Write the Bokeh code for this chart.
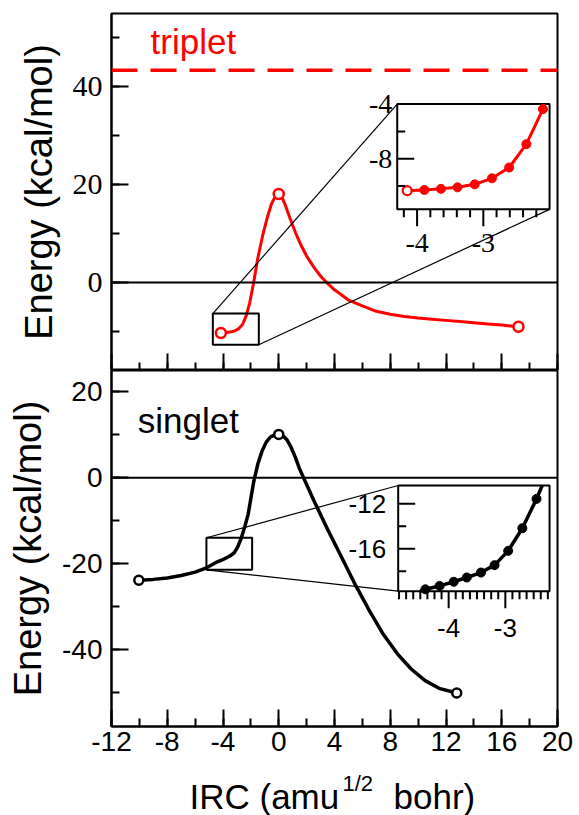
import numpy as np
from bokeh.plotting import figure
from bokeh.layouts import column
from bokeh.models import (Range1d, SingleIntervalTicker, Span, PrintfTickFormatter,
                          CustomJSTickFormatter)
from bokeh.core.properties import value
from bokeh.embed import file_html
from bokeh.resources import INLINE

SANS = "Liberation Sans"
SERIF = "Liberation Serif"
RED = "#ff0000"
BLACK = "#000000"
WIDTH = 579
FRAME_LEFT, FRAME_RIGHT = 111, 557

# ---------------------------------------------------------------- data
# Triplet IRC profile (kcal/mol) along the reaction coordinate
triplet_x = [-4.15, -3.89, -3.64, -3.39, -3.13, -2.87, -2.61, -2.35, -2.10,
             -1.80, -1.50, -1.13, -0.80, -0.53, -0.25, 0.00, 0.25, 0.50,
             0.80, 1.20, 1.60, 2.00, 2.50, 3.00, 3.50, 4.00, 5.00, 6.00,
             7.00, 8.00, 9.00, 10.0, 11.0, 12.0, 13.0, 14.0, 15.0, 16.0, 17.2]
triplet_e = [-10.33, -10.28, -10.20, -10.09, -9.87, -9.43, -8.64, -6.93, -4.37,
             0.0, 5.0, 9.9, 13.5, 16.0, 17.6, 18.1, 17.3, 15.6,
             13.2, 10.2, 7.6, 5.4, 3.2, 1.3, -0.2, -1.5, -3.6, -4.8,
             -5.9, -6.5, -6.95, -7.25, -7.5, -7.75, -8.0, -8.25, -8.5, -8.7, -9.06]
triplet_asymptote = 43.4

# Singlet IRC profile (kcal/mol)
singlet_x = [-10.04, -9.0, -8.0, -7.0, -6.0, -5.24, -4.41, -4.16, -3.91, -3.68,
             -3.43, -3.19, -2.95, -2.70, -2.45, -2.20, -1.80, -1.50, -1.20,
             -0.90, -0.60, -0.30, 0.00, 0.30, 0.60, 0.90, 1.20, 1.50, 2.50,
             3.50, 4.50, 5.50, 6.50, 7.50, 8.50, 9.50, 10.50, 11.50, 12.77]
singlet_e = [-23.9, -23.7, -23.4, -22.8, -22.0, -21.1, -19.6, -19.3, -18.93, -18.55,
             -18.11, -17.45, -16.18, -14.17, -11.56, -8.6, -1.0, 3.2, 6.2,
             8.3, 9.5, 10.0, 10.1, 9.8, 8.8, 7.0, 4.7, 2.0, -5.2,
             -12.0, -18.5, -25.0, -31.0, -36.5, -41.0, -44.6, -47.3, -49.1, -50.2]

x_limits = (-12, 20)
top_limits = (-18, 55)
bottom_limits = (-58, 25)

# magnified windows: region shown, marker box on the main axes, inset placement
top_window = {"x": (-4.30, -2.00), "y": (-11.7, -4.0)}
top_box = {"x": (-4.73, -1.43), "y": (-12.73, -6.37)}
top_place = {"x": (8.50, 19.43), "y": (14.95, 36.48)}
top_xticks = [-4, -3]
top_xminor = [-4.2, -3.8, -3.6, -3.4, -3.2, -2.8, -2.6, -2.4, -2.2]
top_yticks = [-8, -4]
top_yminor = [-10, -6]

bottom_window = {"x": (-4.89, -2.22), "y": (-19.77, -10.37)}
bottom_box = {"x": (-5.19, -1.91), "y": (-21.47, -14.0)}
bottom_place = {"x": (8.57, 19.43), "y": (-26.46, -1.81)}
bottom_xticks = [-4, -3]
bottom_xminor = [-4.875, -4.75, -4.625, -4.5, -4.375, -4.25, -4.125,
                 -3.875, -3.75, -3.625, -3.5, -3.375, -3.25, -3.125,
                 -2.875, -2.75, -2.625, -2.5, -2.375, -2.25]
bottom_yticks = [-16, -12]
bottom_yminor = [-18, -14]


def clip_polyline(xs, ys, xlo, xhi, ylo, yhi):
    """Clip a polyline to a rectangle (Liang-Barsky on each segment)."""
    ox, oy = [], []
    for i in range(len(xs) - 1):
        x0, y0, x1, y1 = xs[i], ys[i], xs[i + 1], ys[i + 1]
        dx, dy = x1 - x0, y1 - y0
        t0, t1, ok = 0.0, 1.0, True
        for pp, qq in ((-dx, x0 - xlo), (dx, xhi - x0), (-dy, y0 - ylo), (dy, yhi - y0)):
            if pp == 0:
                if qq < 0:
                    ok = False
                    break
            else:
                r = qq / pp
                if pp < 0:
                    t0 = max(t0, r)
                else:
                    t1 = min(t1, r)
        if not ok or t0 > t1:
            continue
        ax, ay = x0 + t0 * dx, y0 + t0 * dy
        bx, by = x0 + t1 * dx, y0 + t1 * dy
        if not ox or abs(ox[-1] - ax) > 1e-9 or abs(oy[-1] - ay) > 1e-9:
            ox.append(ax)
            oy.append(ay)
        ox.append(bx)
        oy.append(by)
    return ox, oy


def make_panel(y_limits, height, border_top, border_bottom):
    p = figure(width=WIDTH, height=height, x_range=Range1d(*x_limits),
               y_range=Range1d(*y_limits), output_backend="svg",
               toolbar_location=None, min_border_left=FRAME_LEFT,
               min_border_right=WIDTH - FRAME_RIGHT,
               min_border_top=border_top, min_border_bottom=border_bottom,
               background_fill_color="white", border_fill_color="white")
    p.grid.visible = False
    p.outline_line_color = BLACK
    p.outline_line_width = 2
    p.outline_line_alpha = 1.0
    p.xaxis.ticker = SingleIntervalTicker(interval=4, num_minor_ticks=2)
    p.yaxis.ticker = SingleIntervalTicker(interval=20, num_minor_ticks=2)
    p.axis.formatter = PrintfTickFormatter(format="%d")
    p.axis.axis_line_width = 2
    p.axis.axis_line_color = BLACK
    p.axis.major_tick_in = 17
    p.axis.major_tick_out = 0
    p.axis.minor_tick_in = 8
    p.axis.minor_tick_out = 0
    p.axis.major_tick_line_width = 2
    p.axis.minor_tick_line_width = 2
    p.axis.major_tick_line_color = BLACK
    p.axis.minor_tick_line_color = BLACK
    p.axis.major_label_text_color = BLACK
    p.yaxis.major_label_standoff = 9
    p.yaxis.axis_label = "Energy (kcal/mol)"
    p.yaxis.axis_label_text_font = SANS
    p.yaxis.axis_label_text_font_size = "38px"
    p.yaxis.axis_label_text_font_style = "normal"
    p.yaxis.axis_label_text_color = BLACK
    p.yaxis.axis_label_standoff = 10
    p.add_layout(Span(location=0, dimension="width", line_color=BLACK, line_width=2))
    return p


def draw_inset(p, xs, es, window, place, box, links, color, font, font_size,
               xt, xm, yt, ym, xlab_off, ylab_off, first_open, lw):
    (wx0, wx1), (wy0, wy1) = window["x"], window["y"]
    (px0, px1), (py0, py1) = place["x"], place["y"]
    (bx0, bx1), (by0, by1) = box["x"], box["y"]
    # box marking the magnified region on the main axes
    p.quad(left=[bx0], right=[bx1], bottom=[by0], top=[by1], fill_color=None,
           line_color=BLACK, line_width=2)
    box_c = {"tl": (bx0, by1), "tr": (bx1, by1), "bl": (bx0, by0), "br": (bx1, by0)}
    ins_c = {"tl": (px0, py1), "tr": (px1, py1), "bl": (px0, py0), "br": (px1, py0)}
    p.segment(x0=[box_c[k][0] for k in links], y0=[box_c[k][1] for k in links],
              x1=[ins_c[k][0] for k in links], y1=[ins_c[k][1] for k in links],
              line_color=BLACK, line_width=1.2)
    sub = p.subplot(x_source=Range1d(wx0, wx1), y_source=Range1d(wy0, wy1),
                    x_target=Range1d(px0, px1), y_target=Range1d(py0, py1))
    sub.quad(left=[wx0], right=[wx1], bottom=[wy0], top=[wy1], fill_color="white",
             line_color=BLACK, line_width=2)
    cx, cy = clip_polyline(xs, es, wx0, wx1, wy0, wy1)
    sub.line(cx, cy, line_color=color, line_width=lw)
    xa, ea = np.array(xs), np.array(es)
    inside = (xa >= wx0) & (xa <= wx1) & (ea >= wy0) & (ea <= wy1)
    idx = np.where(inside)[0]
    filled = [i for i in idx if not (first_open and i == 0)]
    sub.scatter(xa[filled], ea[filled], marker="circle", size=9, fill_color=color,
                line_color=color)
    if first_open and inside[0]:
        sub.scatter(xa[:1], ea[:1], marker="circle", size=9, fill_color="white",
                    line_color=color, line_width=2.2)
    # tick marks
    sub.ray(x=xt, y=[wy0] * len(xt), length=17, length_units="screen",
            angle=-np.pi / 2, line_color=BLACK, line_width=2)
    sub.ray(x=xm, y=[wy0] * len(xm), length=8, length_units="screen",
            angle=-np.pi / 2, line_color=BLACK, line_width=2)
    sub.ray(x=[wx0] * len(yt), y=yt, length=17, length_units="screen",
            angle=0, line_color=BLACK, line_width=2)
    sub.ray(x=[wx0] * len(ym), y=ym, length=8, length_units="screen",
            angle=0, line_color=BLACK, line_width=2)
    sub.text(x=xt, y=[wy0] * len(xt), text=[f"{v:g}" for v in xt],
             text_align="center", text_baseline="top", y_offset=xlab_off,
             text_font=value(font), text_font_size=font_size, text_color=BLACK)
    sub.text(x=[wx0] * len(yt), y=yt, text=[f"{v:g}" for v in yt],
             text_align="right", text_baseline="middle", x_offset=ylab_off,
             text_font=value(font), text_font_size=font_size, text_color=BLACK)


def stationary_points(xs, es):
    i_ts = int(np.argmax(es))
    return [xs[0], xs[i_ts], xs[-1]], [es[0], es[i_ts], es[-1]]


# ---------------------------------------------------------------- triplet
pt = make_panel(top_limits, 370, 13, 0)
pt.xaxis.formatter = CustomJSTickFormatter(code="return ''")
pt.xaxis.major_label_text_font_size = "1px"
pt.xaxis.major_label_standoff = 0
pt.yaxis.major_label_text_font = SERIF
pt.yaxis.major_label_text_font_size = "30px"
pt.add_layout(Span(location=triplet_asymptote, dimension="width", line_color=RED,
                   line_width=3.5, line_dash="26 13"))
pt.line(triplet_x, triplet_e, line_color=RED, line_width=3)
sx, se = stationary_points(triplet_x, triplet_e)
pt.scatter(sx, se, marker="circle", size=10, fill_color="white", line_color=RED,
           line_width=2.5)
pt.text(x=[-9.2], y=[49.3], text=["triplet"], text_font=value(SANS),
        text_font_size="35px", text_color=RED, text_baseline="middle")
draw_inset(pt, triplet_x, triplet_e, top_window, top_place, top_box, ["tl", "br"],
           RED, SERIF, "28px", top_xticks, top_xminor, top_yticks, top_yminor,
           25, -5, True, 3)

# ---------------------------------------------------------------- singlet
pb = make_panel(bottom_limits, 400, 0, 44)
pb.yaxis.major_label_text_font = SANS
pb.yaxis.major_label_text_font_size = "28px"
pb.xaxis.major_label_text_font = SANS
pb.xaxis.major_label_text_font_size = "28px"
pb.xaxis.major_label_standoff = 5
pb.line(singlet_x, singlet_e, line_color=BLACK, line_width=3.5)
sx, se = stationary_points(singlet_x, singlet_e)
pb.scatter(sx, se, marker="circle", size=9, fill_color="white", line_color=BLACK,
           line_width=2.5)
pb.text(x=[-10.11], y=[13.25], text=["singlet"], text_font=value(SANS),
        text_font_size="35px", text_color=BLACK, text_baseline="middle")
draw_inset(pb, singlet_x, singlet_e, bottom_window, bottom_place, bottom_box,
           ["tl", "bl"], BLACK, SANS, "26px", bottom_xticks, bottom_xminor,
           bottom_yticks, bottom_yminor, 28, -12, False, 3.5)

# ---------------------------------------------------------------- x-axis title strip
# strip whose frame lines up with the panels above; coordinates are page pixels
STRIP_H = 45
title_parts = ["IRC (amu", "1/2", "bohr)"]
title_x = [189, 342, 393]
title_y = [19, 32, 19]
title_size = ["35px", "22px", "35px"]
px_title = figure(width=WIDTH, height=STRIP_H, x_range=Range1d(FRAME_LEFT, FRAME_RIGHT),
                  y_range=Range1d(0, STRIP_H), output_backend="svg",
                  toolbar_location=None, x_axis_location=None, y_axis_location=None,
                  min_border=0, min_border_left=FRAME_LEFT,
                  min_border_right=WIDTH - FRAME_RIGHT, outline_line_color=None,
                  background_fill_color="white", border_fill_color="white")
px_title.grid.visible = False
for txt, xx, yy, fs in zip(title_parts, title_x, title_y, title_size):
    px_title.text(x=[xx], y=[yy], text=[txt], text_font=value(SANS),
                  text_font_size=fs, text_color=BLACK, text_baseline="middle")

layout = column(pt, pb, px_title, spacing=0)
open("out.html", "w").write(file_html(layout, INLINE))
